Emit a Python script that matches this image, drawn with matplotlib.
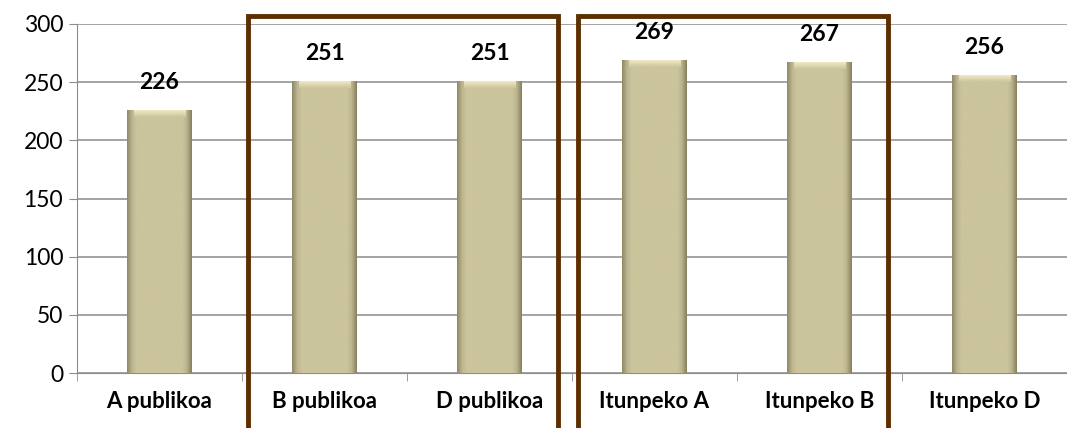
import numpy as np
import matplotlib.pyplot as plt
from matplotlib.patches import Rectangle
from matplotlib.colors import LinearSegmentedColormap

categories = ['A publikoa', 'B publikoa', 'D publikoa', 'Itunpeko A', 'Itunpeko B', 'Itunpeko D']
values = [226, 251, 251, 269, 267, 256]
y_ticks = [0, 50, 100, 150, 200, 250, 300]
# groups framed by brown boxes (first, last category index)
groups = [(1, 2), (3, 4)]

plt.rcParams['font.family'] = ['Lato', 'DejaVu Sans']

fig = plt.figure(figsize=(10.67, 4.28), dpi=100)
ax = fig.add_axes([77 / 1067, 1 - 373 / 428, 990 / 1067, 349 / 428])

x = np.arange(len(categories))
bar_w = 0.39
bars = ax.bar(x, values, width=bar_w, color='#cbc49c', edgecolor='none', zorder=2)

# bevel-ish shading on each bar: dark narrow edges, flat middle
cmap = LinearSegmentedColormap.from_list(
    'bev', [(0, '#8e8866'), (0.08, '#bdb690'), (0.15, '#cbc49c'),
            (0.85, '#cbc49c'), (0.92, '#bbb48e'), (1, '#86805f')])
grad = np.linspace(0, 1, 256).reshape(1, -1)
top_cmap = LinearSegmentedColormap.from_list('top', ['#cbc49c', '#f0ebc4'])
vgrad = np.linspace(0, 1, 64).reshape(-1, 1)
for b in bars:
    x0, w, h = b.get_x(), b.get_width(), b.get_height()
    im = ax.imshow(grad, cmap=cmap, aspect='auto', extent=[x0, x0 + w, 0, h], zorder=3)
    im.set_clip_path(b)
    ax.imshow(vgrad, cmap=top_cmap, aspect='auto', origin='lower',
              extent=[x0 + w * 0.1, x0 + w * 0.9, h - 6, h], zorder=4)

for xi, v in zip(x, values):
    ax.text(xi, v + 24, str(v), ha='center', va='center', fontsize=16.5, fontweight='bold', zorder=5)

ax.set_xlim(-0.5, len(categories) - 0.5)
ax.set_ylim(0, 300)
ax.set_yticks(y_ticks)
ax.set_yticklabels([str(t) for t in y_ticks], fontsize=16.5)
ax.yaxis.grid(True, color='#8c8c8c', linewidth=1.1)
ax.set_axisbelow(True)
ax.tick_params(axis='y', length=6, color='#8c8c8c', pad=4)

ax.set_xticks(x)
ax.set_xticklabels(categories, fontsize=16, fontweight='bold')
ax.tick_params(axis='x', length=0, pad=13)
ax.set_xticks(np.arange(-0.5, len(categories), 1), minor=True)
ax.tick_params(axis='x', which='minor', length=6, color='#8c8c8c')

for s in ['top', 'right']:
    ax.spines[s].set_visible(False)
ax.spines['left'].set_color('#8c8c8c')
ax.spines['bottom'].set_color('#8c8c8c')

# brown frames
for g0, g1 in groups:
    left = g0 - 0.5 + 0.035
    right = g1 + 0.5 - 0.085
    ax.add_patch(Rectangle((left, -80), right - left, 306.5 + 80, fill=False,
                           edgecolor='#5c2e00', linewidth=3.5, clip_on=False, zorder=6))

fig.savefig('out.png', dpi=100)
